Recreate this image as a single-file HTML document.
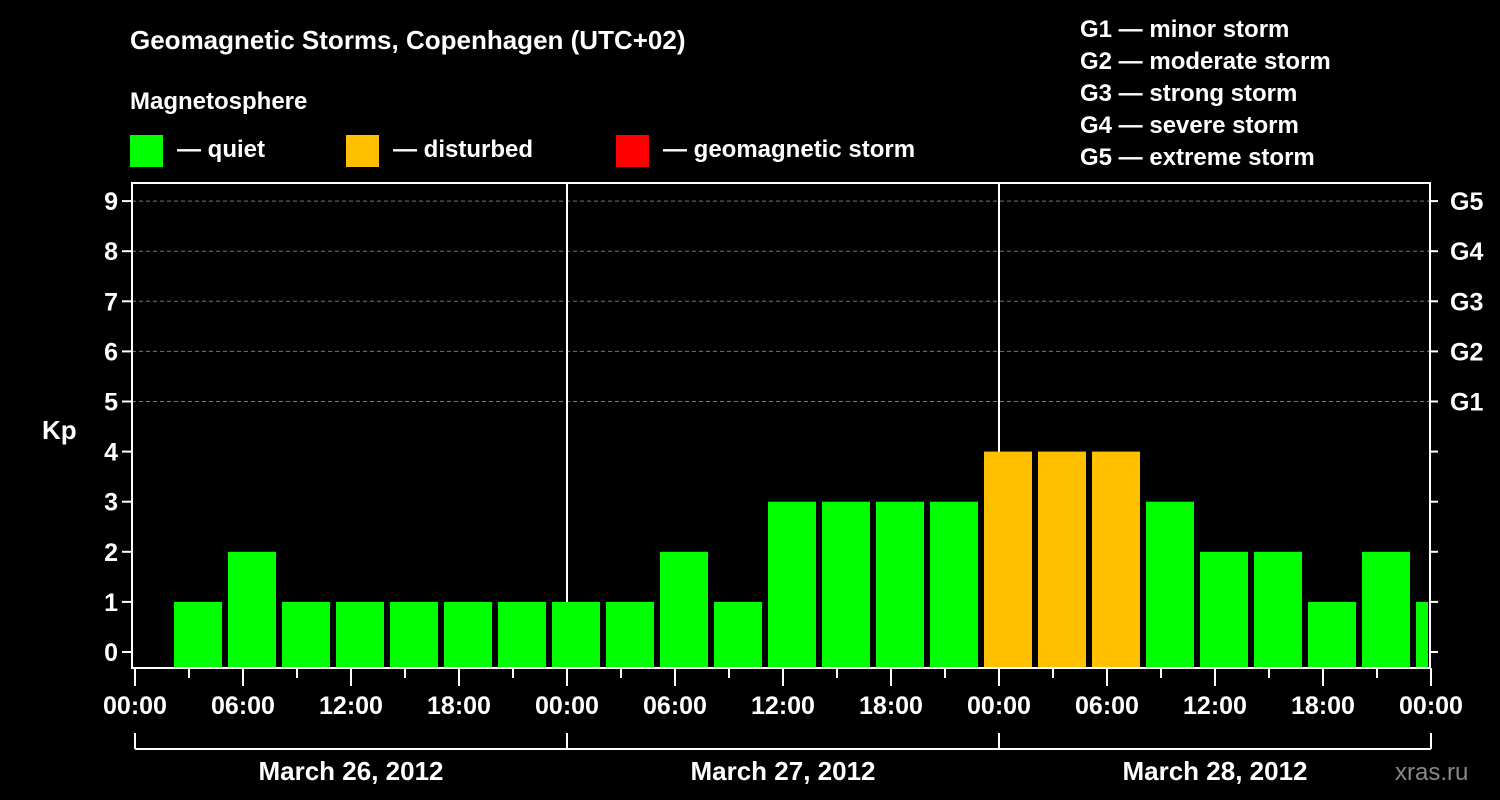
<!DOCTYPE html>
<html><head><meta charset="utf-8"><style>
body{margin:0;background:#000;}
svg{display:block;font-family:"Liberation Sans",sans-serif;font-weight:bold;fill:#fff;}
</style></head><body>
<svg id="c" width="1500" height="800" viewBox="0 0 1500 800">
<rect width="1500" height="800" fill="#000"/>
<text x="130" y="49" font-size="26">Geomagnetic Storms, Copenhagen (UTC+02)</text>
<text x="130" y="109" font-size="24">Magnetosphere</text>
<g><rect x="130" y="135" width="33" height="32" fill="#00ff00"/><text x="177" y="157" font-size="24">— quiet</text></g>
<g><rect x="346" y="135" width="33" height="32" fill="#ffc000"/><text x="393" y="157" font-size="24">— disturbed</text></g>
<g><rect x="616" y="135" width="33" height="32" fill="#ff0000"/><text x="663" y="157" font-size="24">— geomagnetic storm</text></g>
<g font-size="24">
<text x="1080" y="37">G1 — minor storm</text><text x="1080" y="69">G2 — moderate storm</text><text x="1080" y="101">G3 — strong storm</text><text x="1080" y="133">G4 — severe storm</text><text x="1080" y="165">G5 — extreme storm</text>
</g>
<text x="42" y="439" font-size="26">Kp</text>
<text x="1395" y="780" font-size="24" fill="#888" style="fill:#888;font-weight:normal">xras.ru</text>
<g id="grid"></g><g id="bars"></g><g id="axes"></g>
</svg>
<script>
const kpValues=[1,2,1,1,1,1,1,1,1,2,1,3,3,3,3,4,4,4,3,2,2,1,2,1];
const yTicks=[0,1,2,3,4,5,6,7,8,9];
const gLabels=["G1","G2","G3","G4","G5"];
const xTickLabels=["00:00","06:00","12:00","18:00","00:00","06:00","12:00","18:00","00:00","06:00","12:00","18:00","00:00"];
const dayLabels=["March 26, 2012","March 27, 2012","March 28, 2012"];
const firstBarHour=2;
const NS="http://www.w3.org/2000/svg";
const X0=135,PXH=18,Y0=652,PXK=50.1,L=132,R=1430,T=183,B=668;
const x=h=>X0+h*PXH, y=v=>Y0-v*PXK;
function mk(p,t,a){const e=document.createElementNS(NS,t);for(const k in a)e.setAttribute(k,a[k]);p.appendChild(e);return e;}
const grid=document.getElementById('grid'),bars=document.getElementById('bars'),axes=document.getElementById('axes');
for(let v=5;v<=9;v++){const l=mk(grid,'line',{x1:L,x2:R,y1:y(v),y2:y(v),stroke:'#777','stroke-dasharray':'4,3'});

}
[1,2].forEach(d=>{const l=mk(grid,'line',{x1:x(24*d),x2:x(24*d),y1:T,y2:B,stroke:'#fff','stroke-width':2});

});
kpValues.forEach((v,i)=>{const h0=firstBarHour+3*i;let x1=x(h0)+3,x2=Math.min(x(h0+3)-3,R-2);
const r=mk(bars,'rect',{x:x1,y:y(v),width:x2-x1,height:B-1-y(v),fill:v>=5?'#ff0000':v>=4?'#ffc000':'#00ff00'});

});
mk(axes,'rect',{x:L,y:T,width:R-L,height:B-T,fill:'none',stroke:'#fff','stroke-width':2});
yTicks.forEach(v=>{mk(axes,'line',{x1:L-10,x2:L,y1:y(v),y2:y(v),stroke:'#fff','stroke-width':2});
mk(axes,'line',{x1:R,x2:R+8,y1:y(v),y2:y(v),stroke:'#fff','stroke-width':2});
const t=mk(axes,'text',{x:L-14,y:y(v)+9,'text-anchor':'end','font-size':25});t.textContent=v;

});
gLabels.forEach((g,i)=>{const t=mk(axes,'text',{x:R+20,y:y(5+i)+9,'font-size':25});t.textContent=g;

});
for(let h=0;h<=72;h+=3){mk(axes,'line',{x1:x(h),x2:x(h),y1:B,y2:B+(h%6?10:18),stroke:'#fff','stroke-width':2});}
xTickLabels.forEach((s,i)=>{const t=mk(axes,'text',{x:x(6*i),y:714,'text-anchor':'middle','font-size':25});t.textContent=s;

});
mk(axes,'line',{x1:x(0),x2:x(72),y1:749,y2:749,stroke:'#fff','stroke-width':2});
for(let d=0;d<=3;d++)mk(axes,'line',{x1:x(24*d),x2:x(24*d),y1:733,y2:749,stroke:'#fff','stroke-width':2});
dayLabels.forEach((s,i)=>{const t=mk(axes,'text',{x:x(24*i+12),y:780,'text-anchor':'middle','font-size':26});t.textContent=s;

});
</script>
</body></html>
